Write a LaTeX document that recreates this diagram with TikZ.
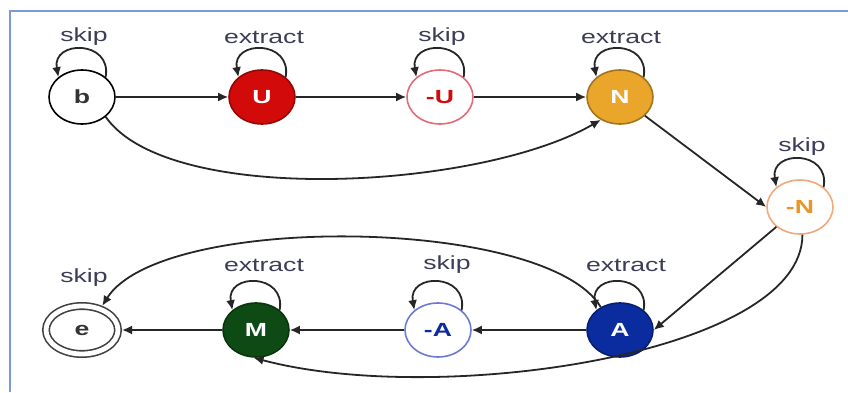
\documentclass[tikz,border=0pt]{standalone}
\usepackage{fontspec}
\setmainfont{Liberation Sans}
\usetikzlibrary{arrows.meta,shapes.geometric}
\definecolor{frameblue}{HTML}{7C9AD6}
\definecolor{lblgray}{HTML}{3C3C58}
\definecolor{ured}{HTML}{D20A0A}
\definecolor{nyellow}{HTML}{E9A62A}
\definecolor{ablue}{HTML}{0B2C9E}
\definecolor{mgreen}{HTML}{0E4A14}
\definecolor{urose}{HTML}{E46A78}
\definecolor{npeach}{HTML}{F2A878}
\definecolor{aliteblue}{HTML}{6C7AD2}
\newcommand{\widetxt}[1]{\scalebox{1.4}[1]{#1}}
\begin{document}
\begin{tikzpicture}[x=0.5pt,y=0.5pt,
    state/.style={draw, ellipse, minimum width=33pt, minimum height=27pt, inner sep=0pt,
        line width=0.8pt, font=\fontsize{9.5}{11}\selectfont\bfseries},
    lbl/.style={font=\fontsize{9.5}{11}\selectfont, text=lblgray},
    arr/.style={-{Latex[length=5pt,width=4.5pt]}, line width=0.9pt, draw=black!85}]
    \useasboundingbox (0,0) rectangle (848,392);
    \draw[frameblue, line width=0.8pt] (10,0) -- (10,381) -- (848,381);
    \node[state, text=black!80] (b) at (82,295) {\widetxt{b}};
    \node[state, fill=ured, draw=ured!70!black, text=white] (U) at (262,295) {\widetxt{U}};
    \node[state, draw=urose, text=ured] (mU) at (440,295) {\widetxt{-U}};
    \node[state, fill=nyellow, draw=nyellow!70!black, text=white] (N) at (620,295) {\widetxt{N}};
    \node[state, draw=npeach, text=nyellow!90!red] (mN) at (800,185) {\widetxt{-N}};
    \node[state, fill=ablue, draw=ablue!70!black, text=white] (A) at (620,62) {\widetxt{A}};
    \node[state, draw=aliteblue, text=ablue] (mA) at (438,62) {\widetxt{-A}};
    \node[state, fill=mgreen, draw=mgreen!70!black, text=white] (M) at (256,62) {\widetxt{M}};
    \node[state, draw=black!75, double, double distance=2.4pt, minimum width=36pt,
        minimum height=24pt, outer sep=2pt, text=black!80] (e) at (82,62) {\widetxt{e}};
    \node[lbl] (skipb) at (84,355) {\widetxt{skip}};
    \node[lbl] (extU) at (264,355) {\widetxt{extract}};
    \node[lbl] (skipmU) at (442,355) {\widetxt{skip}};
    \node[lbl] (extN) at (621,355) {\widetxt{extract}};
    \node[lbl] (skipmN) at (802,245) {\widetxt{skip}};
    \node[lbl] (extA) at (626,127) {\widetxt{extract}};
    \node[lbl] (skipmA) at (447,127) {\widetxt{skip}};
    \node[lbl] (extM) at (264,127) {\widetxt{extract}};
    \node[lbl] (skipe) at (84,114) {\widetxt{skip}};
    \foreach \s in {b,U,mU,N,mN,A,mA,M}
        \draw[arr] (\s.40) .. controls +(80:38) and +(100:38) .. (\s.140);
    \draw[arr] (b) -- (U);
    \draw[arr] (U) -- (mU);
    \draw[arr] (mU) -- (N);
    \draw[arr] (b.-40) .. controls +(-55:110) and +(-150:140) .. (N.-130);
    \draw[arr] (N) -- (mN.west);
    \draw[arr] (mN) -- (A.east);
    \draw[arr] (mN.-85) .. controls +(-90:120) and +(-15:190) .. (M.-95);
    \draw[arr] (A) -- (mA);
    \draw[arr] (mA) -- (M);
    \draw[arr] (M) -- (e);
    \draw[arr] (A.130) .. controls +(121:106) and +(58:110) .. (e.50);
\end{tikzpicture}
\end{document}
